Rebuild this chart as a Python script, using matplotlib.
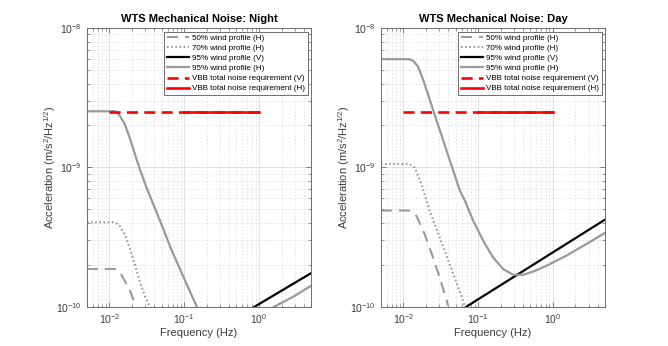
import numpy as np
import matplotlib
matplotlib.use('Agg')
import matplotlib.pyplot as plt

plt.rcParams['font.family'] = ['Liberation Sans', 'DejaVu Sans']
plt.rcParams['mathtext.fontset'] = 'custom'
plt.rcParams['mathtext.rm'] = 'Liberation Sans'
plt.rcParams['mathtext.it'] = 'Liberation Sans'
plt.rcParams['lines.scale_dashes'] = False

# --- data (frequency in Hz, acceleration in m/s^2/Hz^1/2)
# night
n50_f = [0.005, 0.0118, 0.0131, 0.0144, 0.016, 0.0186, 0.0205, 0.0218, 0.0225]
n50_a = [1.87e-10, 1.87e-10, 1.82e-10, 1.70e-10, 1.54e-10, 1.34e-10, 1.16e-10, 1.07e-10, 1.0e-10]
n70_f = [0.005, 0.0112, 0.0124, 0.0136, 0.016, 0.0186, 0.0218, 0.0254, 0.0297, 0.0347]
n70_a = [4.04e-10, 4.04e-10, 3.97e-10, 3.83e-10, 3.33e-10, 2.67e-10, 2.03e-10, 1.54e-10,
         1.2e-10, 1.0e-10]
n95v_f = [0.865, 5.0]
n95v_a = [1.0e-10, 1.75e-10]
n95h_f = [0.005, 0.0118, 0.0128, 0.01365, 0.01595, 0.0186, 0.0218, 0.0254, 0.0313, 0.0385,
          0.0464, 0.0683, 0.103, 0.148, np.nan, 1.58, 2.85, 5.0]
n95h_a = [2.53e-9, 2.53e-9, 2.48e-9, 2.37e-9, 2.06e-9, 1.65e-9, 1.26e-9, 9.8e-10, 7.2e-10,
          5.48e-10, 4.28e-10, 2.53e-10, 1.54e-10, 1.0e-10, np.nan, 1.0e-10, 1.18e-10, 1.42e-10]

# day
d50_f = [0.005, 0.0118, 0.0131, 0.0149, 0.0193, 0.0249, 0.0306, 0.0383, 0.0395]
d50_a = [4.91e-10, 4.91e-10, 4.78e-10, 4.52e-10, 3.33e-10, 2.27e-10, 1.63e-10, 1.10e-10,
         1.02e-10]
d70_f = [0.005, 0.0112, 0.0127, 0.0142, 0.0174, 0.0225, 0.0306, 0.0416, 0.0565, 0.067]
d70_a = [1.06e-9, 1.06e-9, 1.04e-9, 1.0e-9, 7.63e-10, 4.91e-10, 3.16e-10, 2.03e-10,
         1.30e-10, 1.0e-10]
d95v_f = [0.069, 4.74, 5.0]
d95v_a = [1.0e-10, 4.16e-10, 4.23e-10]
d95h_f = [0.005, 0.012, 0.0136, 0.0158, 0.0185, 0.0216, 0.0251, 0.0308, 0.0379, 0.0465,
          0.057, 0.0665, 0.0858, 0.1166, 0.158, 0.2156, 0.293, 0.398, 0.541, 0.816,
          1.51, 2.79, 5.0]
d95h_a = [5.98e-9, 5.98e-9, 5.82e-9, 5.27e-9, 4.23e-9, 3.3e-9, 2.57e-9, 1.85e-9, 1.32e-9,
          9.5e-10, 6.84e-10, 5.79e-10, 4.16e-10, 2.99e-10, 2.27e-10, 1.87e-10, 1.70e-10,
          1.70e-10, 1.79e-10, 1.97e-10, 2.33e-10, 2.82e-10, 3.40e-10]

# VBB requirement
reqv_f = [0.01, 1.0]
reqv_a = [2.5e-9, 2.5e-9]
reqh_f = [0.1, 1.0]
reqh_a = [2.5e-9, 2.5e-9]

labels = ['50% wind profile (H)', '70% wind profile (H)', '95% wind profile (V)',
          '95% wind profile (H)', 'VBB total noise requirement (V)',
          'VBB total noise requirement (H)']

gray = '#9a9a9a'
axcol = '#6e6e6e'

fig = plt.figure(figsize=(6.68, 3.46), dpi=100)
ax1 = fig.add_axes([0.130, 0.113, 0.336, 0.806])
ax2 = fig.add_axes([0.570, 0.113, 0.336, 0.806])

panels = [
    (ax1, 'WTS Mechanical Noise: Night', n50_f, n50_a, n70_f, n70_a, n95v_f, n95v_a, n95h_f, n95h_a),
    (ax2, 'WTS Mechanical Noise: Day', d50_f, d50_a, d70_f, d70_a, d95v_f, d95v_a, d95h_f, d95h_a),
]

for ax, title, f50, a50, f70, a70, fv, av, fh, ah in panels:
    ax.plot(f50, a50, color=gray, lw=1.5, dashes=(8, 5), label=labels[0])
    ax.plot(f70, a70, color=gray, lw=1.5, dashes=(1.2, 1.8), label=labels[1])
    ax.plot(fv, av, color='black', lw=1.6, label=labels[2])
    ax.plot(fh, ah, color=gray, lw=1.6, label=labels[3])
    ax.plot(reqv_f, reqv_a, color='red', lw=1.9, dashes=(8, 4.5), label=labels[4])
    ax.plot(reqh_f, reqh_a, color='red', lw=1.9, label=labels[5])

    ax.set_xscale('log')
    ax.set_yscale('log')
    ax.set_xlim(0.005, 5)
    ax.set_ylim(1e-10, 1e-8)
    ax.set_xticks([1e-2, 1e-1, 1e0])
    ax.set_yticks([1e-10, 1e-9, 1e-8])

    ax.grid(True, which='major', color='#dcdcdc', lw=0.6, ls='-')
    ax.grid(True, which='minor', color='#d4d4d4', lw=0.5, ls=(0, (1, 1.5)))
    ax.set_axisbelow(True)
    ax.tick_params(which='both', direction='in', top=True, right=True,
                   colors=axcol, labelcolor='#3c3c3c', labelsize=7.5)
    ax.tick_params(which='major', length=3.5, width=0.6)
    ax.tick_params(which='minor', length=2, width=0.5)
    for s in ax.spines.values():
        s.set_color(axcol)
        s.set_linewidth(0.7)

    ax.set_title(title, fontsize=8, fontweight='bold', pad=4)
    ax.set_xlabel('Frequency (Hz)', fontsize=8, color='#3c3c3c', labelpad=2)
    ax.set_ylabel('Acceleration (m/s$^2$/Hz$^{1/2}$)', fontsize=8, color='#3c3c3c', labelpad=-1)

    leg = ax.legend(loc='upper right', fontsize=5.8, handlelength=2.8, handletextpad=0.3,
                    labelspacing=0.3, borderpad=0.35, borderaxespad=0.45,
                    fancybox=False, framealpha=1, edgecolor=axcol)
    leg.get_frame().set_linewidth(0.7)

fig.savefig('out.png', dpi=100)
